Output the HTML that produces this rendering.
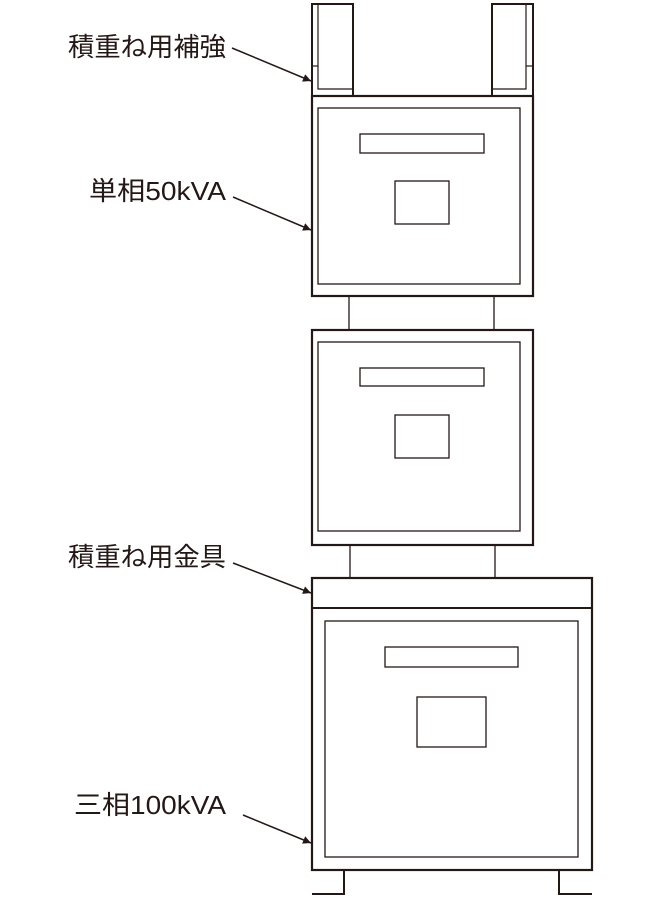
<!DOCTYPE html>
<html><head><meta charset="utf-8"><style>
html,body{margin:0;padding:0;background:#fff;width:660px;height:900px;overflow:hidden}
</style></head><body>
<svg width="660" height="900" viewBox="0 0 660 900" xmlns="http://www.w3.org/2000/svg">
<defs><marker id="a" viewBox="0 0 10 10" refX="10" refY="5" markerWidth="8" markerHeight="8" orient="auto" markerUnits="userSpaceOnUse"><path d="M0,0 L10,5 L0,10 z" fill="#231815"/></marker></defs>
<g fill="none" stroke="#231815">
<g stroke-width="2"><rect x="312" y="4" width="41" height="92"/><rect x="492" y="4" width="41" height="92"/></g>
<g stroke-width="1.2"><polyline points="318,4 318,89 353,89"/><line x1="312" y1="66" x2="318" y2="66"/>
<polyline points="526,4 526,89 492,89"/><line x1="526" y1="66" x2="533" y2="66"/></g>
<rect x="312" y="96" width="221" height="200" stroke-width="2.2"/>
<g stroke-width="1.3"><rect x="318" y="108" width="202" height="176"/><rect x="360" y="134" width="124" height="19"/><rect x="395" y="181" width="54" height="43"/>
<line x1="349" y1="296" x2="349" y2="330"/><line x1="494" y1="296" x2="494" y2="330"/></g>
<rect x="312" y="330" width="221" height="215" stroke-width="2.2"/>
<g stroke-width="1.3"><rect x="318" y="342" width="202" height="189"/><rect x="360" y="368" width="124" height="18"/><rect x="395" y="415" width="54" height="43"/>
<line x1="350" y1="545" x2="350" y2="578"/><line x1="495" y1="545" x2="495" y2="578"/></g>
<rect x="312" y="578" width="280" height="292" stroke-width="2.2"/>
<line x1="312" y1="608" x2="592" y2="608" stroke-width="2"/>
<g stroke-width="1.3"><rect x="325" y="621" width="253" height="236"/><rect x="385" y="647" width="133" height="20"/><rect x="417" y="697" width="69" height="50"/></g>
<g stroke-width="2"><polyline points="312,894 344,894 344,870"/><polyline points="592,894 559,894 559,870"/></g>
<g stroke-width="1.5" marker-end="url(#a)">
<line x1="232" y1="48" x2="311" y2="81"/>
<line x1="233" y1="197" x2="311" y2="230"/>
<line x1="233" y1="563" x2="311" y2="593"/>
<line x1="243" y1="815" x2="311" y2="843"/>
</g>
</g>
<g font-family="'Liberation Sans','Noto Sans CJK JP',sans-serif" font-size="26" fill="#231815" lengthAdjust="spacingAndGlyphs">
<text x="68" y="56" textLength="158" lengthAdjust="spacingAndGlyphs">積重ね用補強</text>
<text x="89" y="200" textLength="137" lengthAdjust="spacingAndGlyphs">単相50kVA</text>
<text x="68" y="566" textLength="158" lengthAdjust="spacingAndGlyphs">積重ね用金具</text>
<text x="74" y="814" textLength="152" lengthAdjust="spacingAndGlyphs">三相100kVA</text>
</g>
</svg>
</body></html>
